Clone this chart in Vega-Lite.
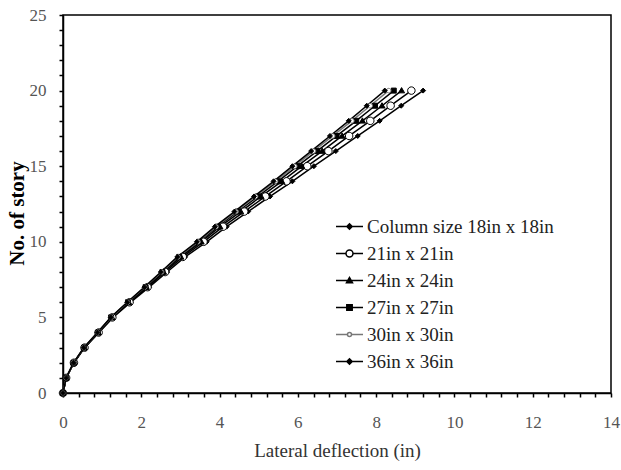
{
  "$schema": "https://vega.github.io/schema/vega-lite/v6.json",
  "width": 548,
  "height": 378,
  "autosize": {"type": "none"},
  "padding": {"left": 63, "top": 15, "right": 10, "bottom": 77},
  "background": "white",
  "config": {
    "font": "Liberation Serif",
    "view": {"stroke": "black", "strokeWidth": 1.5},
    "axis": {"grid": false, "domainColor": "black", "domainWidth": 1.5, "tickColor": "black", "tickWidth": 1.5, "tickSize": 4, "labelFont": "Liberation Serif", "labelFontSize": 17, "labelColor": "#555555", "titleFont": "Liberation Serif", "titleColor": "black"}
  },
  "data": {"values": [
    {"series": "Column size 18in x 18in", "story": 0, "defl": 0},
    {"series": "Column size 18in x 18in", "story": 1, "defl": 0.08},
    {"series": "Column size 18in x 18in", "story": 2, "defl": 0.28},
    {"series": "Column size 18in x 18in", "story": 3, "defl": 0.55},
    {"series": "Column size 18in x 18in", "story": 4, "defl": 0.92},
    {"series": "Column size 18in x 18in", "story": 5, "defl": 1.28},
    {"series": "Column size 18in x 18in", "story": 6, "defl": 1.73},
    {"series": "Column size 18in x 18in", "story": 7, "defl": 2.20},
    {"series": "Column size 18in x 18in", "story": 8, "defl": 2.66},
    {"series": "Column size 18in x 18in", "story": 9, "defl": 3.12},
    {"series": "Column size 18in x 18in", "story": 10, "defl": 3.67},
    {"series": "Column size 18in x 18in", "story": 11, "defl": 4.18},
    {"series": "Column size 18in x 18in", "story": 12, "defl": 4.73},
    {"series": "Column size 18in x 18in", "story": 13, "defl": 5.29},
    {"series": "Column size 18in x 18in", "story": 14, "defl": 5.86},
    {"series": "Column size 18in x 18in", "story": 15, "defl": 6.41},
    {"series": "Column size 18in x 18in", "story": 16, "defl": 6.97},
    {"series": "Column size 18in x 18in", "story": 17, "defl": 7.53},
    {"series": "Column size 18in x 18in", "story": 18, "defl": 8.09},
    {"series": "Column size 18in x 18in", "story": 19, "defl": 8.64},
    {"series": "Column size 18in x 18in", "story": 20, "defl": 9.20},
    {"series": "21in x 21in", "story": 0, "defl": 0},
    {"series": "21in x 21in", "story": 1, "defl": 0.08},
    {"series": "21in x 21in", "story": 2, "defl": 0.28},
    {"series": "21in x 21in", "story": 3, "defl": 0.55},
    {"series": "21in x 21in", "story": 4, "defl": 0.91},
    {"series": "21in x 21in", "story": 5, "defl": 1.26},
    {"series": "21in x 21in", "story": 6, "defl": 1.70},
    {"series": "21in x 21in", "story": 7, "defl": 2.16},
    {"series": "21in x 21in", "story": 8, "defl": 2.61},
    {"series": "21in x 21in", "story": 9, "defl": 3.06},
    {"series": "21in x 21in", "story": 10, "defl": 3.59},
    {"series": "21in x 21in", "story": 11, "defl": 4.09},
    {"series": "21in x 21in", "story": 12, "defl": 4.63},
    {"series": "21in x 21in", "story": 13, "defl": 5.17},
    {"series": "21in x 21in", "story": 14, "defl": 5.71},
    {"series": "21in x 21in", "story": 15, "defl": 6.24},
    {"series": "21in x 21in", "story": 16, "defl": 6.78},
    {"series": "21in x 21in", "story": 17, "defl": 7.31},
    {"series": "21in x 21in", "story": 18, "defl": 7.85},
    {"series": "21in x 21in", "story": 19, "defl": 8.37},
    {"series": "21in x 21in", "story": 20, "defl": 8.90},
    {"series": "24in x 24in", "story": 0, "defl": 0},
    {"series": "24in x 24in", "story": 1, "defl": 0.08},
    {"series": "24in x 24in", "story": 2, "defl": 0.27},
    {"series": "24in x 24in", "story": 3, "defl": 0.54},
    {"series": "24in x 24in", "story": 4, "defl": 0.90},
    {"series": "24in x 24in", "story": 5, "defl": 1.25},
    {"series": "24in x 24in", "story": 6, "defl": 1.68},
    {"series": "24in x 24in", "story": 7, "defl": 2.13},
    {"series": "24in x 24in", "story": 8, "defl": 2.57},
    {"series": "24in x 24in", "story": 9, "defl": 3.01},
    {"series": "24in x 24in", "story": 10, "defl": 3.53},
    {"series": "24in x 24in", "story": 11, "defl": 4.01},
    {"series": "24in x 24in", "story": 12, "defl": 4.54},
    {"series": "24in x 24in", "story": 13, "defl": 5.06},
    {"series": "24in x 24in", "story": 14, "defl": 5.59},
    {"series": "24in x 24in", "story": 15, "defl": 6.10},
    {"series": "24in x 24in", "story": 16, "defl": 6.62},
    {"series": "24in x 24in", "story": 17, "defl": 7.13},
    {"series": "24in x 24in", "story": 18, "defl": 7.65},
    {"series": "24in x 24in", "story": 19, "defl": 8.15},
    {"series": "24in x 24in", "story": 20, "defl": 8.65},
    {"series": "27in x 27in", "story": 0, "defl": 0},
    {"series": "27in x 27in", "story": 1, "defl": 0.08},
    {"series": "27in x 27in", "story": 2, "defl": 0.27},
    {"series": "27in x 27in", "story": 3, "defl": 0.54},
    {"series": "27in x 27in", "story": 4, "defl": 0.89},
    {"series": "27in x 27in", "story": 5, "defl": 1.23},
    {"series": "27in x 27in", "story": 6, "defl": 1.66},
    {"series": "27in x 27in", "story": 7, "defl": 2.11},
    {"series": "27in x 27in", "story": 8, "defl": 2.54},
    {"series": "27in x 27in", "story": 9, "defl": 2.97},
    {"series": "27in x 27in", "story": 10, "defl": 3.48},
    {"series": "27in x 27in", "story": 11, "defl": 3.95},
    {"series": "27in x 27in", "story": 12, "defl": 4.46},
    {"series": "27in x 27in", "story": 13, "defl": 4.98},
    {"series": "27in x 27in", "story": 14, "defl": 5.49},
    {"series": "27in x 27in", "story": 15, "defl": 5.99},
    {"series": "27in x 27in", "story": 16, "defl": 6.49},
    {"series": "27in x 27in", "story": 17, "defl": 6.99},
    {"series": "27in x 27in", "story": 18, "defl": 7.49},
    {"series": "27in x 27in", "story": 19, "defl": 7.97},
    {"series": "27in x 27in", "story": 20, "defl": 8.45},
    {"series": "30in x 30in", "story": 0, "defl": 0},
    {"series": "30in x 30in", "story": 1, "defl": 0.08},
    {"series": "30in x 30in", "story": 2, "defl": 0.27},
    {"series": "30in x 30in", "story": 3, "defl": 0.53},
    {"series": "30in x 30in", "story": 4, "defl": 0.88},
    {"series": "30in x 30in", "story": 5, "defl": 1.23},
    {"series": "30in x 30in", "story": 6, "defl": 1.65},
    {"series": "30in x 30in", "story": 7, "defl": 2.09},
    {"series": "30in x 30in", "story": 8, "defl": 2.52},
    {"series": "30in x 30in", "story": 9, "defl": 2.94},
    {"series": "30in x 30in", "story": 10, "defl": 3.45},
    {"series": "30in x 30in", "story": 11, "defl": 3.91},
    {"series": "30in x 30in", "story": 12, "defl": 4.42},
    {"series": "30in x 30in", "story": 13, "defl": 4.92},
    {"series": "30in x 30in", "story": 14, "defl": 5.43},
    {"series": "30in x 30in", "story": 15, "defl": 5.92},
    {"series": "30in x 30in", "story": 16, "defl": 6.40},
    {"series": "30in x 30in", "story": 17, "defl": 6.89},
    {"series": "30in x 30in", "story": 18, "defl": 7.38},
    {"series": "30in x 30in", "story": 19, "defl": 7.85},
    {"series": "30in x 30in", "story": 20, "defl": 8.32},
    {"series": "36in x 36in", "story": 0, "defl": 0},
    {"series": "36in x 36in", "story": 1, "defl": 0.08},
    {"series": "36in x 36in", "story": 2, "defl": 0.27},
    {"series": "36in x 36in", "story": 3, "defl": 0.53},
    {"series": "36in x 36in", "story": 4, "defl": 0.88},
    {"series": "36in x 36in", "story": 5, "defl": 1.22},
    {"series": "36in x 36in", "story": 6, "defl": 1.64},
    {"series": "36in x 36in", "story": 7, "defl": 2.08},
    {"series": "36in x 36in", "story": 8, "defl": 2.50},
    {"series": "36in x 36in", "story": 9, "defl": 2.92},
    {"series": "36in x 36in", "story": 10, "defl": 3.42},
    {"series": "36in x 36in", "story": 11, "defl": 3.88},
    {"series": "36in x 36in", "story": 12, "defl": 4.38},
    {"series": "36in x 36in", "story": 13, "defl": 4.88},
    {"series": "36in x 36in", "story": 14, "defl": 5.38},
    {"series": "36in x 36in", "story": 15, "defl": 5.86},
    {"series": "36in x 36in", "story": 16, "defl": 6.34},
    {"series": "36in x 36in", "story": 17, "defl": 6.82},
    {"series": "36in x 36in", "story": 18, "defl": 7.30},
    {"series": "36in x 36in", "story": 19, "defl": 7.76},
    {"series": "36in x 36in", "story": 20, "defl": 8.22}
  ]},
  "encoding": {
    "x": {
      "field": "defl", "type": "quantitative",
      "scale": {"domain": [0, 14], "nice": false, "zero": false},
      "axis": {
        "title": "Lateral deflection (in)",
        "titleFontSize": 19, "titleFontWeight": "normal", "titleColor": "#333333",
        "titleBaseline": "middle", "titleY": 57,
        "values": [0,0.4,0.8,1.2,1.6,2,2.4,2.8,3.2,3.6,4,4.4,4.8,5.2,5.6,6,6.4,6.8,7.2,7.6,8,8.4,8.8,9.2,9.6,10,10.4,10.8,11.2,11.6,12,12.4,12.8,13.2,13.6,14],
        "tickCount": 100,
        "labelExpr": "datum.value % 2 == 0 ? format(datum.value, 'd') : ''",
        "labelFlush": false, "labelOverlap": false,
        "labelPadding": 17,
        "encode": {"ticks": {"update": {"y": {"value": -4}, "y2": {"value": 4}}}}
      }
    },
    "y": {
      "field": "story", "type": "quantitative",
      "scale": {"domain": [0, 25], "nice": false},
      "axis": {
        "title": "No. of story",
        "titleFontSize": 21, "titleFontWeight": "bold",
        "titleBaseline": "middle", "titleX": -46, "titleY": 198, "titleAngle": -90,
        "values": [0,1,2,3,4,5,6,7,8,9,10,11,12,13,14,15,16,17,18,19,20,21,22,23,24,25],
        "tickCount": 100,
        "labelExpr": "datum.value % 5 == 0 ? format(datum.value, 'd') : ''",
        "labelOverlap": false, "labelFlush": false,
        "labelPadding": 13,
        "encode": {"ticks": {"update": {"x": {"value": -4}, "x2": {"value": 4}}}}
      }
    }
  },
  "layer": [
    {
      "mark": {"type": "line", "strokeWidth": 1.5},
      "encoding": {
        "detail": {"field": "series", "type": "nominal"},
        "stroke": {"field": "series", "type": "nominal",
          "scale": {"domain": ["Column size 18in x 18in", "21in x 21in", "24in x 24in", "27in x 27in", "30in x 30in", "36in x 36in"], "range": ["black", "black", "black", "black", "#777777", "black"]},
          "legend": {
            "title": null, "orient": "none", "legendX": 272, "legendY": 197,
            "padding": 0, "rowPadding": 2, "symbolSize": 729, "symbolStrokeWidth": 1.5,
            "labelFont": "Liberation Serif", "labelFontSize": 19, "labelColor": "#222222", "labelOffset": 3, "labelLimit": 400,
            "encode": {"symbols": {"update": {
              "shape": {"signal": "['M-1,0H1M-0.2,0L0,-0.2L0.2,0L0,0.2Z','M-1,0H-0.26M0.26,0H1M-0.26,0A0.26,0.26,0,1,1,0.26,0A0.26,0.26,0,1,1,-0.26,0Z','M-1,0H1M-0.22,0.16L0,-0.22L0.22,0.16Z','M-1,0H1M-0.2,-0.2H0.2V0.2H-0.2Z','M-1,0H-0.15M0.15,0H1M-0.15,0A0.15,0.15,0,1,1,0.15,0A0.15,0.15,0,1,1,-0.15,0Z','M-1,0H1M-0.2,0L0,-0.2L0.2,0L0,0.2Z'][datum.index]"},
              "fill": {"signal": "['black','white','black','black','white','black'][datum.index]"},
              "strokeWidth": {"value": 1.5},
              "size": {"value": 729},
              "opacity": {"value": 1}
            }}}
          }
        }
      }
    },
    {
      "mark": {"type": "point", "size": 100, "strokeWidth": 1, "opacity": 1},
      "encoding": {
        "shape": {
          "condition": [
            {"test": "datum.series == '21in x 21in'", "value": "M-0.75,0A0.75,0.75,0,1,1,0.75,0A0.75,0.75,0,1,1,-0.75,0Z"},
            {"test": "datum.series == '24in x 24in'", "value": "M-0.6,0.45L0,-0.6L0.6,0.45Z"},
            {"test": "datum.series == '27in x 27in'", "value": "M-0.5,-0.5H0.5V0.5H-0.5Z"},
            {"test": "datum.series == '30in x 30in'", "value": "M-0.45,0A0.45,0.45,0,1,1,0.45,0A0.45,0.45,0,1,1,-0.45,0Z"}
          ],
          "value": "M-0.5,0L0,-0.5L0.5,0L0,0.5Z"
        },
        "fill": {
          "condition": {"test": "datum.series == '21in x 21in' || datum.series == '30in x 30in'", "value": "white"},
          "value": "black"
        },
        "stroke": {
          "condition": {"test": "datum.series == '30in x 30in'", "value": "#777777"},
          "value": "black"
        }
      }
    }
  ]
}
